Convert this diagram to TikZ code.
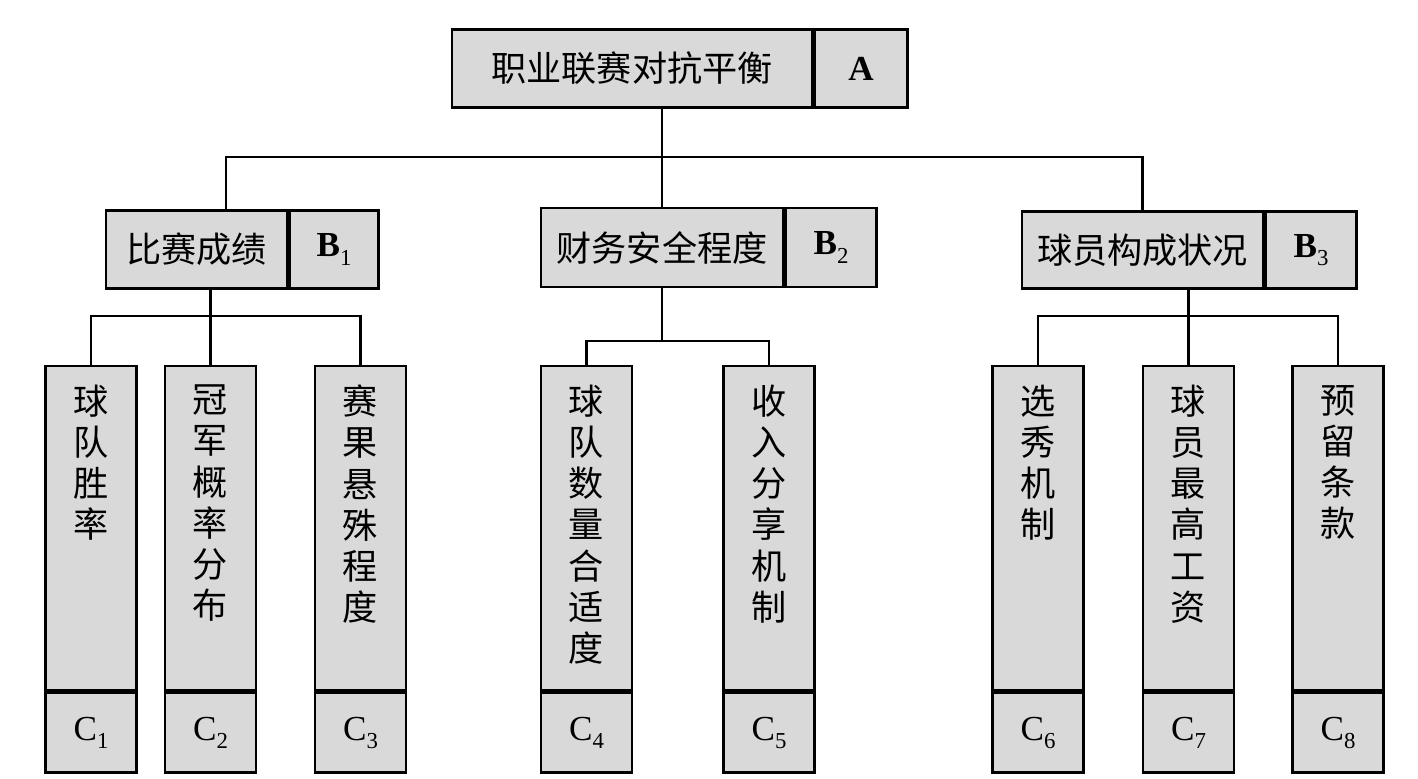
\documentclass[tikz,border=0pt]{standalone}
\usepackage{fontspec}
\setmainfont{Liberation Serif}
\newfontfamily\cjk{Noto Sans CJK SC}
\usetikzlibrary{positioning}
\definecolor{boxgray}{HTML}{D9D9D9}
\newcommand{\lowsub}[1]{\raisebox{-0.5ex}{\mdseries\fontsize{13}{13}\selectfont #1}}

\begin{document}
\begin{tikzpicture}[
    box/.style={draw, fill=boxgray, line width=1.5pt, inner sep=0pt, minimum height=1.55cm},
    namebox/.style={box, font=\cjk\fontsize{20}{24}\selectfont},
    codebox/.style={box, font=\bfseries\fontsize{20}{24}\selectfont},
    cbox/.style={draw, fill=boxgray, line width=1.5pt, minimum width=1.82cm, minimum height=6.48cm, inner sep=0pt},
    ccode/.style={cbox, minimum height=1.6cm, font=\fontsize{20}{24}\selectfont},
    ctext/.style={anchor=north, inner sep=0pt, align=center, font=\cjk\fontsize{20}{23.4}\selectfont},
    link/.style={line width=1.5pt},
]
\useasboundingbox (0,0) rectangle (28.36,-15.58);

% Goal
\node[namebox, minimum width=7.2cm] (a) at (12.64,-1.37) {职业联赛对抗平衡};
\node[codebox, minimum width=1.86cm, right=0pt of a] (ac) {A};

% Criteria
\node[namebox, minimum width=3.62cm] (b1) at (3.93,-4.99) {比赛成绩};
\node[codebox, minimum width=1.78cm, right=0pt of b1] (b1c) {B\lowsub{1}};
\node[namebox, minimum width=4.84cm, minimum height=1.58cm] (b2) at (13.24,-4.95) {财务安全程度};
\node[codebox, minimum width=1.82cm, minimum height=1.58cm, right=0pt of b2] (b2c) {B\lowsub{2}};
\node[namebox, minimum width=4.82cm] (b3) at (22.85,-5.0) {球员构成状况};
\node[codebox, minimum width=1.82cm, right=0pt of b3] (b3c) {B\lowsub{3}};

% Indicators
\node[cbox] (c1) at (1.82,-10.56) {};
\node[ccode, below=0pt of c1] (c1c) {C\lowsub{1}};
\node[ctext] (t1) at ([yshift=-0.4cm]c1.north) {球\\队\\胜\\率};

\node[cbox] (c2) at (4.21,-10.56) {};
\node[ccode, below=0pt of c2] (c2c) {C\lowsub{2}};
\node[ctext] (t2) at ([yshift=-0.4cm]c2.north) {冠\\军\\概\\率\\分\\布};

\node[cbox] (c3) at (7.21,-10.56) {};
\node[ccode, below=0pt of c3] (c3c) {C\lowsub{3}};
\node[ctext] (t3) at ([yshift=-0.4cm]c3.north) {赛\\果\\悬\\殊\\程\\度};

\node[cbox] (c4) at (11.73,-10.56) {};
\node[ccode, below=0pt of c4] (c4c) {C\lowsub{4}};
\node[ctext] (t4) at ([yshift=-0.4cm]c4.north) {球\\队\\数\\量\\合\\适\\度};

\node[cbox] (c5) at (15.38,-10.56) {};
\node[ccode, below=0pt of c5] (c5c) {C\lowsub{5}};
\node[ctext] (t5) at ([yshift=-0.4cm]c5.north) {收\\入\\分\\享\\机\\制};

\node[cbox] (c6) at (20.76,-10.56) {};
\node[ccode, below=0pt of c6] (c6c) {C\lowsub{6}};
\node[ctext] (t6) at ([yshift=-0.4cm]c6.north) {选\\秀\\机\\制};

\node[cbox] (c7) at (23.77,-10.56) {};
\node[ccode, below=0pt of c7] (c7c) {C\lowsub{7}};
\node[ctext] (t7) at ([yshift=-0.4cm]c7.north) {球\\员\\最\\高\\工\\资};

\node[cbox] (c8) at (26.76,-10.56) {};
\node[ccode, below=0pt of c8] (c8c) {C\lowsub{8}};
\node[ctext] (t8) at ([yshift=-0.4cm]c8.north) {预\\留\\条\\款};

% Goal to criteria
\coordinate (busb) at (0,-3.14);
\coordinate (jb1) at (4.52,-3.14);
\draw[link] (a.south -| b2.north) -- (b2.north);
\draw[link] (jb1 |- b1.north) |- (b3.north |- busb) -- (b3.north);

% Criteria to indicators
\coordinate (busc) at (0,-6.32);
\coordinate (busd) at (0,-6.82);
\draw[link] (b1.south -| c2.north) -- (c2.north);
\draw[link] (c1.north) |- (busc -| c3.north) -- (c3.north);
\draw[link] (b2.south) -- (b2.south |- busd);
\draw[link] (c4.north) |- (busd -| c5.north) -- (c5.north);
\draw[link] (b3.south -| c7.north) -- (c7.north);
\draw[link] (c6.north) |- (busc -| c8.north) -- (c8.north);
\end{tikzpicture}
\end{document}
